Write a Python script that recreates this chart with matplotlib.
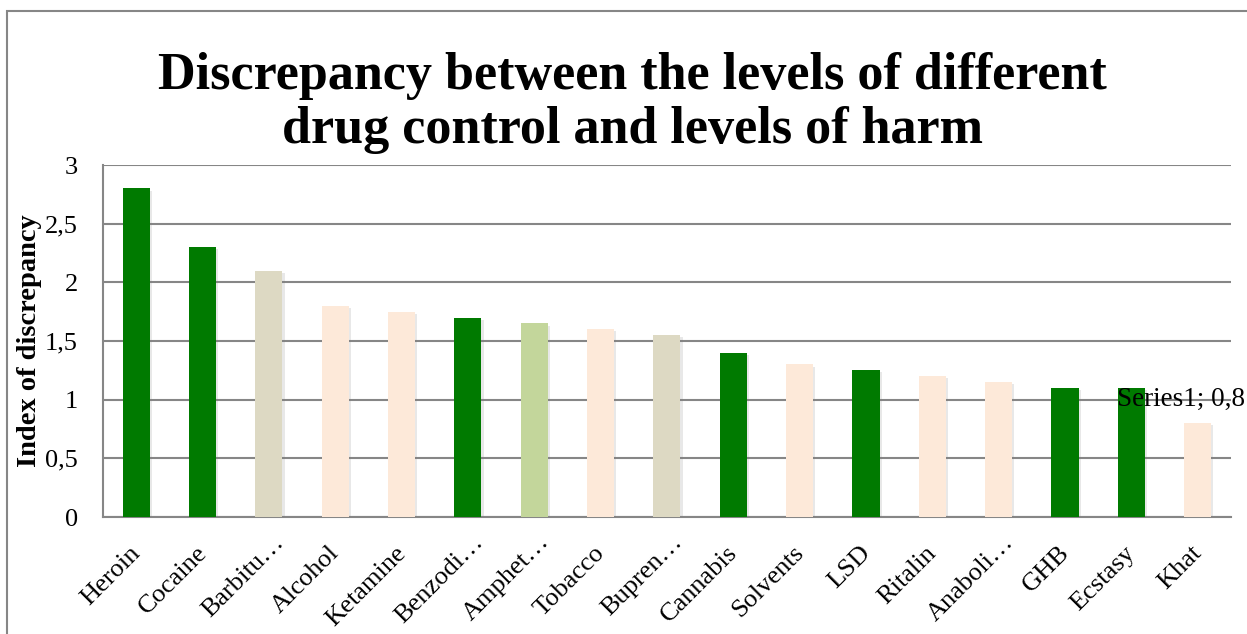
import matplotlib
matplotlib.use("Agg")
import matplotlib.pyplot as plt
from matplotlib.patches import Rectangle
from matplotlib.transforms import ScaledTranslation
import matplotlib.patheffects as pe

# Drug categories (truncated names as displayed on the axis)
categories = ["Heroin", "Cocaine", "Barbitu…", "Alcohol", "Ketamine", "Benzodi…",
              "Amphet…", "Tobacco", "Bupren…", "Cannabis", "Solvents", "LSD",
              "Ritalin", "Anaboli…", "GHB", "Ecstasy", "Khat"]
values = [2.8, 2.3, 2.1, 1.8, 1.75, 1.7, 1.65, 1.6, 1.55, 1.4, 1.3, 1.25,
          1.2, 1.15, 1.1, 1.1, 0.8]
yticks = [0, 0.5, 1, 1.5, 2, 2.5, 3]
ytick_labels = ["0", "0,5", "1", "1,5", "2", "2,5", "3"]

GREEN = "#007A00"
TAN = "#DDD9C3"
PEACH = "#FDE9D9"
OLIVE = "#C3D69B"
bar_colors = [GREEN, GREEN, TAN, PEACH, PEACH, GREEN, OLIVE, PEACH, TAN,
              GREEN, PEACH, GREEN, PEACH, PEACH, GREEN, GREEN, PEACH]

plt.rcParams["font.family"] = ["Liberation Serif", "DejaVu Serif"]

fig = plt.figure(figsize=(12.47, 6.34), dpi=100)
ax = fig.add_axes([0.0826, 0.1845, 0.9044, 0.5552])

x = list(range(len(categories)))
bars = ax.bar(x, values, width=0.41, color=bar_colors, zorder=3)
for b in bars:
    b.set_path_effects([pe.SimplePatchShadow(offset=(1.5, -1.5), alpha=0.18,
                                             shadow_rgbFace="#808080"),
                        pe.Normal()])

ax.set_xlim(-0.5, len(categories) - 0.5)
ax.set_ylim(0, 3)
ax.set_yticks(yticks)
ax.set_yticklabels(ytick_labels, fontsize=19)
ax.set_xticks(x)
ax.set_xticklabels(categories, fontsize=19, rotation=45, ha="right",
                   rotation_mode="anchor")
ax.tick_params(axis="y", length=0, pad=18)
ax.tick_params(axis="x", length=0, pad=16)

# Nudge the slanted labels; truncated ones slide further along their diagonal
base_shift = ScaledTranslation(-5 / 72, -2 / 72, fig.dpi_scale_trans)
trunc_shift = ScaledTranslation(3 / 72, 6 / 72, fig.dpi_scale_trans)
for lbl in ax.get_xticklabels():
    t = lbl.get_transform() + (trunc_shift if lbl.get_text().endswith("…") else base_shift)
    lbl.set_transform(t)

ax.yaxis.grid(True, color="#868686", linewidth=1.5, zorder=0)
ax.set_axisbelow(True)
for side in ["top", "right"]:
    ax.spines[side].set_visible(False)
for side in ["left", "bottom"]:
    ax.spines[side].set_color("#868686")
    ax.spines[side].set_linewidth(1.5)

ax.set_ylabel("Index of discrepancy", fontsize=20.5, fontweight="bold", labelpad=2)

# Data label for the last bar
ax.annotate(f"Series1; {values[-1]:.1f}".replace(".", ","),
            xy=(x[-1], values[-1]), xytext=(-58, 17),
            textcoords="offset points", fontsize=19.5, ha="left", va="center",
            annotation_clip=False, zorder=5)

fig.text(0.507, 0.837, "Discrepancy between the levels of different\ndrug control and levels of harm",
         ha="center", va="center", fontsize=37.5, fontweight="bold",
         linespacing=1.17)

# Outer chart frame
fig.patches.append(Rectangle((7 / 1247, -0.05), 1.1, 1 - 11 / 634 + 0.05,
                             transform=fig.transFigure, fill=False,
                             edgecolor="#868686", linewidth=1.5))

fig.savefig("out.png", dpi=100)
